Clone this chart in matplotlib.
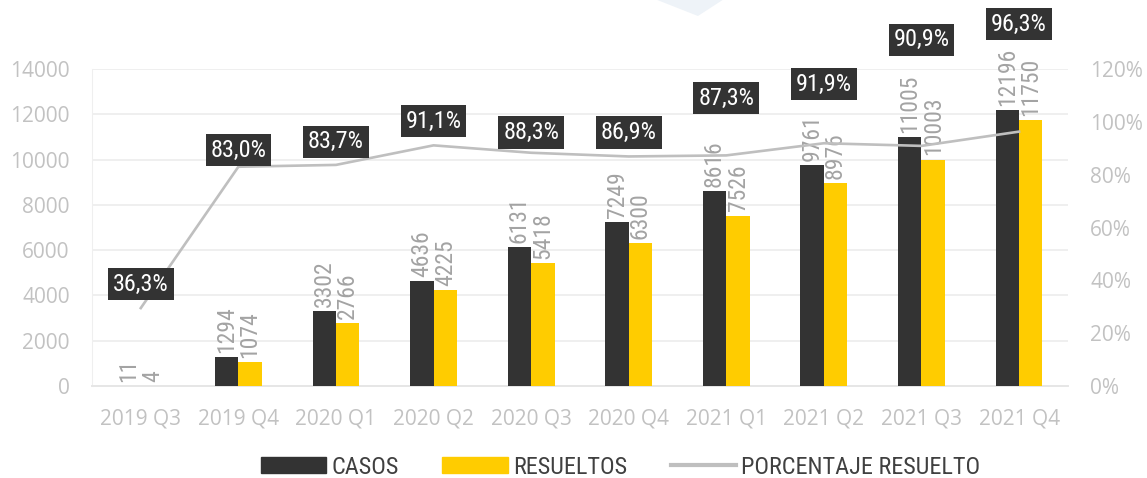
import matplotlib
matplotlib.use('Agg')
import numpy as np
from matplotlib import font_manager
from matplotlib import pyplot as plt
from matplotlib.lines import Line2D
from matplotlib.patches import Patch, Polygon

quarters = ['2019 Q3', '2019 Q4', '2020 Q1', '2020 Q2', '2020 Q3',
            '2020 Q4', '2021 Q1', '2021 Q2', '2021 Q3', '2021 Q4']
casos = [11, 1294, 3302, 4636, 6131, 7249, 8616, 9761, 11005, 12196]
resueltos = [4, 1074, 2766, 4225, 5418, 6300, 7526, 8976, 10003, 11750]
# line as drawn in the reference (first point sits lower than its label)
pct_line = [29.5, 83.0, 83.7, 91.1, 88.3, 86.9, 87.3, 91.9, 90.9, 96.3]
pct_labels = ['36,3%', '83,0%', '83,7%', '91,1%', '88,3%',
              '86,9%', '87,3%', '91,9%', '90,9%', '96,3%']
# vertical placement of the percent boxes (right-axis units)
label_y = [38.6, 89.3, 92.4, 100.3, 96.1, 96.1, 109.0, 114.3, 131.0, 137.0]

DARK = '#333333'
YELLOW = '#FFCC00'
LINE_GRAY = '#BFBFBF'
TICK_GRAY = '#C2C2C2'
LABEL_GRAY = '#A3A3A3'

# pick a narrow face if one is installed
fonts = font_manager.fontManager.ttflist
names = {f.name for f in fonts}
narrow_name = next((n for n in ('Roboto Condensed', 'Liberation Sans Narrow',
                                'Open Sans Condensed', 'Noto Sans Condensed',
                                'DejaVu Sans Condensed', 'Arial Narrow')
                    if n in names), None)
NARROW_KW = {}
if narrow_name:
    NARROW_KW = {'family': [narrow_name, 'DejaVu Sans']}
else:
    cond = [f for f in fonts if f.stretch in ('condensed', 'semi-condensed',
                                              'extra-condensed', 'ultra-condensed')]
    if cond:
        NARROW_KW = {'family': [cond[0].name, 'DejaVu Sans'], 'stretch': cond[0].stretch}
    else:
        NARROW_KW = {'family': ['Roboto', 'DejaVu Sans']}
SCALE = 1.0 if narrow_name or 'stretch' in NARROW_KW else 0.82

plt.rcParams['font.family'] = ['Open Sans', 'DejaVu Sans']

fig = plt.figure(figsize=(11.47, 4.78), dpi=100)

# faint decorative tab at the top edge of the slide
fig.patches.append(Polygon([(0.573, 1.0), (0.6085, 0.9665), (0.630, 1.0)],
                           closed=True, transform=fig.transFigure,
                           fc='#EEF3F8', ec='none', zorder=0))

ax = fig.add_axes([0.0802, 0.1925, 0.931 - 0.0802, 0.8556 - 0.1925])
ax2 = ax.twinx()

x = np.arange(len(quarters))
w = 0.24
b1 = ax.bar(x - w / 2, casos, w, color=DARK, zorder=3)
b2 = ax.bar(x + w / 2, resueltos, w, color=YELLOW, zorder=3)

for bars, vals in ((b1, casos), (b2, resueltos)):
    for rect, v in zip(bars, vals):
        ax.annotate(str(v), (rect.get_x() + rect.get_width() / 2, v),
                    xytext=(0, 3), textcoords='offset points',
                    rotation=90, ha='center', va='bottom',
                    fontsize=17 * SCALE, color=LABEL_GRAY, zorder=4, **NARROW_KW)

ax2.plot(x, pct_line, color=LINE_GRAY, linewidth=1.9, zorder=5)
for xi, lab, ly in zip(x, pct_labels, label_y):
    ax2.text(xi, ly, lab, ha='center', va='center', fontsize=17.5 * SCALE,
             color='white', clip_on=False, zorder=6,
             bbox=dict(boxstyle='square,pad=0.2', fc=DARK, ec='none'), **NARROW_KW)

ax.set_xlim(-0.5, len(quarters) - 0.5)
ax.set_ylim(0, 14000)
ax.set_yticks(np.arange(0, 14001, 2000))
ax2.set_ylim(0, 120)
ax2.set_yticks(np.arange(0, 121, 20))
ax2.set_yticklabels([f'{v}%' for v in range(0, 121, 20)])
ax.set_xticks(x)
ax.set_xticklabels(quarters)

ax.grid(axis='y', color='#EFEFEF', linewidth=1.4, zorder=0)
ax.set_axisbelow(True)
for a in (ax, ax2):
    for s in ('top', 'right', 'left', 'bottom'):
        a.spines[s].set_visible(False)
ax.spines['left'].set_visible(True)
ax.spines['left'].set_color('#EFEFEF')
ax.spines['bottom'].set_visible(True)
ax.spines['bottom'].set_color('#E6E6E6')
ax.spines['bottom'].set_linewidth(1.4)

ax.tick_params(axis='y', length=0, pad=16, labelsize=15, labelcolor=TICK_GRAY)
ax.tick_params(axis='x', length=0, pad=16, labelsize=15, labelcolor=TICK_GRAY)
ax2.tick_params(axis='y', length=0, pad=16, labelsize=15, labelcolor=TICK_GRAY)

handles = [Patch(color=DARK), Patch(color=YELLOW),
           Line2D([], [], color=LINE_GRAY, linewidth=3)]
leg_prop = {'size': 17.5 * SCALE}
leg_prop.update(NARROW_KW)
fig.legend(handles, ['CASOS', 'RESUELTOS', 'PORCENTAJE RESUELTO'],
           loc='center', bbox_to_anchor=(0.541, 0.023), ncol=3, frameon=False,
           prop=leg_prop, labelcolor='#404040',
           handlelength=2.7, handleheight=0.6, handletextpad=0.2,
           columnspacing=1.8)

fig.savefig('out.png', dpi=100)
